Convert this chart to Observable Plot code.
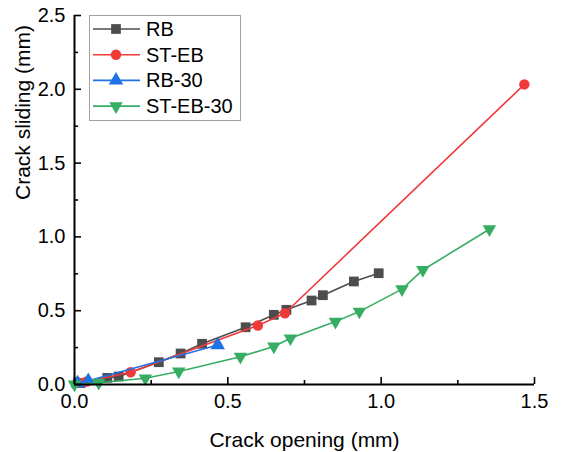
<!DOCTYPE html>
<html>
<head>
<meta charset="utf-8">
<script src="https://cdn.jsdelivr.net/npm/d3@7"></script>
<script src="https://cdn.jsdelivr.net/npm/@observablehq/plot@0.6"></script>
<style>
  body { margin: 0; background: #fff; }
  #chart { position: relative; width: 562px; height: 452px; }
  #legend { position: absolute; left: 0; top: 0; pointer-events: none; }
</style>
</head>
<body>
<div id="chart"></div>
<script>
// ---- data ----
const seriesNames = ["RB", "ST-EB", "RB-30", "ST-EB-30"];
const seriesColors = ["#4d4d4d", "#f03a3a", "#1f72e6", "#36ad63"];

const rbX = [0.02, 0.107, 0.144, 0.275, 0.346, 0.416, 0.558, 0.650, 0.691, 0.773, 0.810, 0.911, 0.992];
const rbY = [0.01, 0.045, 0.054, 0.151, 0.210, 0.276, 0.388, 0.472, 0.506, 0.569, 0.605, 0.698, 0.754];

const stebX = [0.01, 0.04, 0.183, 0.598, 0.686, 1.467];
const stebY = [0.015, 0.02, 0.083, 0.400, 0.483, 2.033];

const rb30X = [0.01, 0.045, 0.467];
const rb30Y = [0.01, 0.025, 0.268];

const steb30X = [0.0, 0.079, 0.231, 0.340, 0.541, 0.650, 0.704, 0.851, 0.929, 1.068, 1.136, 1.353];
const steb30Y = [0.0, 0.012, 0.042, 0.088, 0.188, 0.258, 0.313, 0.426, 0.494, 0.646, 0.776, 1.052];

const xTicks = [0.0, 0.5, 1.0, 1.5];
const xMinor = [0.25, 0.75, 1.25];
const yTicks = [0.0, 0.5, 1.0, 1.5, 2.0, 2.5];
const yMinor = [0.25, 0.75, 1.25, 1.75, 2.25];
const xTitle = "Crack opening (mm)";
const yTitle = "Crack sliding (mm)";

// ---- build table ----
const triangleDown = {
  draw(ctx, size) {
    const y = -Math.sqrt(size / (3 * Math.sqrt(3)));
    ctx.moveTo(0, -y * 2);
    ctx.lineTo(-Math.sqrt(3) * y, y);
    ctx.lineTo(Math.sqrt(3) * y, y);
    ctx.closePath();
  }
};
const symbols = ["square", "circle", "triangle", triangleDown];
const radii = [5.5, 5.2, 5.4, 5];

const series = [
  {name: seriesNames[0], xs: rbX, ys: rbY},
  {name: seriesNames[1], xs: stebX, ys: stebY},
  {name: seriesNames[2], xs: rb30X, ys: rb30Y},
  {name: seriesNames[3], xs: steb30X, ys: steb30Y}
].map((s, i) => ({
  ...s,
  color: seriesColors[i],
  symbol: symbols[i],
  r: radii[i],
  data: s.xs.map((x, j) => ({x, y: s.ys[j]}))
}));

const W = 562, H = 452, mL = 74, mR = 28, mT = 15, mB = 68;
const plotW = W - mL - mR, plotH = H - mT - mB;

const marks = [];
for (const s of series) {
  marks.push(Plot.line(s.data, {x: "x", y: "y", stroke: s.color, strokeWidth: 1.6}));
  marks.push(Plot.dot(s.data, {x: "x", y: "y", fill: s.color, symbol: () => s.symbol, r: s.r, stroke: "none"}));
}

const plot = Plot.plot({
  width: W, height: H,
  marginLeft: mL, marginRight: mR, marginTop: mT, marginBottom: mB,
  style: {fontFamily: "'Liberation Sans', Arial, sans-serif", background: "#fff", color: "#000"},
  x: {domain: [0, 1.5]},
  y: {domain: [0, 2.5]},
  symbol: {type: "identity"},
  marks: [
    ...marks,
    // inward ticks
    Plot.tickX(xTicks, {x: d => d, insetTop: plotH - 7, stroke: "#000", strokeWidth: 1.6}),
    Plot.tickX(xMinor, {x: d => d, insetTop: plotH - 4, stroke: "#000", strokeWidth: 1.6}),
    Plot.tickY(yTicks, {y: d => d, insetRight: plotW - 7, stroke: "#000", strokeWidth: 1.6}),
    Plot.tickY(yMinor, {y: d => d, insetRight: plotW - 4, stroke: "#000", strokeWidth: 1.6}),
    Plot.ruleX([0], {stroke: "#000", strokeWidth: 2}),
    Plot.ruleY([0], {stroke: "#000", strokeWidth: 2}),
    Plot.axisX(xTicks, {tickSize: 0, tickPadding: 9, fontSize: 20, tickFormat: d3.format(".1f"), label: null}),
    Plot.axisY(yTicks, {tickSize: 0, tickPadding: 9, fontSize: 20, tickFormat: d3.format(".1f"), label: null}),
    Plot.text([xTitle], {frameAnchor: "bottom", dy: 48, lineAnchor: "top", fontSize: 21, text: d => d}),
    Plot.text([yTitle], {frameAnchor: "left", dx: -51, rotate: -90, lineAnchor: "middle", fontSize: 21, text: d => d})
  ]
});

const chart = document.getElementById("chart");
chart.appendChild(plot);

// ---- legend overlay ----
const leg = d3.select(chart).append("svg")
  .attr("id", "legend").attr("width", W).attr("height", H)
  .style("font-family", "'Liberation Sans', Arial, sans-serif");
leg.append("rect").attr("x", 89.5).attr("y", 15.5).attr("width", 151).attr("height", 105)
  .attr("fill", "#fff").attr("stroke", "#a0a0a0").attr("stroke-width", 1);
series.forEach((s, i) => {
  const cy = 29 + i * 25.7;
  const g = leg.append("g");
  g.append("line").attr("x1", 93).attr("x2", 140).attr("y1", cy).attr("y2", cy)
    .attr("stroke", s.color).attr("stroke-width", 1.6);
  const sym = typeof s.symbol === "string"
    ? {square: d3.symbolSquare, circle: d3.symbolCircle, triangle: d3.symbolTriangle}[s.symbol]
    : s.symbol;
  g.append("path").attr("transform", `translate(116,${cy})`)
    .attr("d", d3.symbol(sym, Math.PI * s.r * s.r)())
    .attr("fill", s.color);
  g.append("text").attr("x", 146).attr("y", cy).attr("dy", "0.35em")
    .attr("font-size", 20).attr("fill", "#000").text(s.name);
});
</script>
</body>
</html>
